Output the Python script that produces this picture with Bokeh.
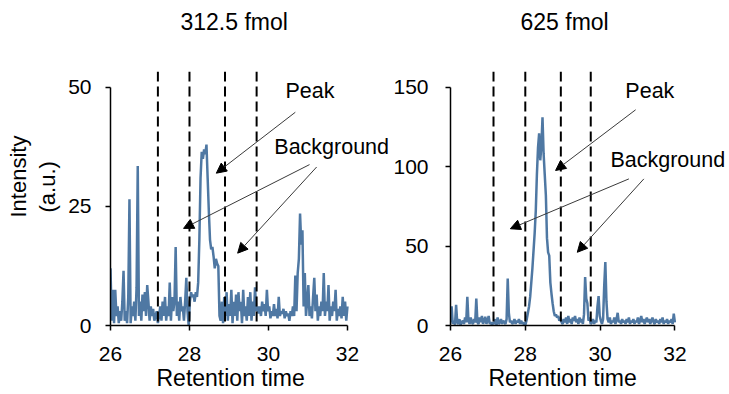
from bokeh.plotting import figure
from bokeh.layouts import row
from bokeh.models import Range1d, FixedTicker, Span, Arrow, NormalHead, Label, Title
from bokeh.embed import file_html
from bokeh.resources import INLINE

# ---------------- data ----------------
rt_start, rt_step, rt_count = 26.0, 0.03, 201
retention_time = [round(rt_start + rt_step * i, 2) for i in range(rt_count)]

intensity_312 = [
    12, 1, 7.5, 0.5, 7.5, 2, 4, 0.5, 3, 1,
    5, 11.5, 1, 3, 0.5, 6, 26.5, 0.5, 4, 2,
    5, 1, 8, 33.5, 2, 5, 1, 6.5, 3, 7,
    2, 8.5, 5, 1, 4, 2, 3.5, 1, 2, 3,
    0.5, 2, 4, 1, 5, 2, 6, 1, 4, 2,
    9, 1, 6, 3, 5, 16.5, 2, 5, 1, 6,
    3, 4, 1, 5, 10, 3, 0, 5, 7, 6,
    6.5, 5, 7, 6, 9, 18, 31, 36.5, 35, 37,
    36, 38, 31, 24, 18, 16, 16.5, 14.5, 12, 14,
    13, 12.5, 2, 1, 5, 0.5, 6, 2, 7, 1,
    4.5, 2, 7.5, 0.5, 5, 2, 6.5, 1, 7, 3,
    5, 0.5, 7.5, 2, 4, 1, 6, 2, 7, 1,
    5, 2, 8, 3, 4, 2.5, 4, 2, 5, 3,
    4.5, 2, 7.5, 3, 4, 1.5, 3, 2, 4.5, 2,
    3.5, 1.5, 6, 2, 3, 2.5, 3.5, 1.5, 3, 2,
    2.5, 1, 3, 2, 4, 2, 10.5, 3, 11, 14,
    23.5, 17, 20, 4, 11, 2, 5, 8.5, 2, 4,
    1.5, 6, 10, 3, 6.5, 1, 4, 2, 5, 3,
    11, 2, 5, 3, 8.5, 1, 4, 2, 5, 3,
    7.5, 1, 3.5, 2, 4, 1.5, 6, 2, 5, 1,
    4,
]

intensity_625 = [
    2, 12, 1, 3, 0.5, 13, 2, 1, 4, 0.5,
    2, 3, 1, 5, 2, 18, 3, 1, 5, 2,
    1, 4, 2, 17, 2, 1, 5, 2, 6, 1,
    3, 5.5, 1, 3, 6, 1, 2, 0.5, 2, 1,
    4, 0.5, 5, 1, 2, 4, 1, 3, 2, 1,
    4, 29.5, 8, 2, 3, 1, 2, 4, 1, 3,
    2, 4, 1, 3, 1, 2, 0, 1, 4, 8,
    12, 18, 27, 36, 47, 58, 72, 95, 112, 121,
    104, 113, 131, 108, 95, 82, 55, 46, 44, 27,
    20, 14, 9, 6, 7, 5, 6, 3, 5, 2,
    1, 4, 2, 5, 1, 6, 2, 4, 1, 5,
    3, 6, 2, 4, 1, 5, 2, 4, 1, 7,
    30.5, 17, 14, 3, 5, 1, 2, 4, 1, 3,
    2, 12, 18.5, 6, 3, 1, 4, 25, 40, 15,
    4, 2, 5, 1, 3, 2, 5, 1, 4, 8,
    2, 3, 1, 4, 2, 3, 1, 4, 2, 5,
    1, 3, 2, 4, 1, 3, 2, 5, 1, 3,
    6, 2, 4, 1, 3, 5, 2, 4, 1, 3,
    5, 2, 1, 4, 2, 3, 1, 4, 2, 5,
    1, 3, 2, 4, 1, 3, 2, 4, 1, 7.5,
    2,
]

titles = ["312.5 fmol", "625 fmol"]
x_label = "Retention time"
y_label_lines = ["Intensity", "(a.u.)"]
x_ticks = [26, 28, 30, 32]
x_axis_bounds = (26, 32)
y_ticks_312 = [0, 25, 50]
y_ticks_625 = [0, 50, 100, 150]
y_axis_max_312 = 50
y_axis_max_625 = 150
y_view_max_312 = 53.36
y_view_max_625 = 159.9
x_view_max_312 = 33.09   # room at the right for the annotation texts
x_view_max_625 = 33.46

window_312 = [27.2, 28.0, 28.9, 29.7]
window_625 = [27.15, 28.0, 28.95, 29.75]

# annotations: (text, x, y)
labels_312 = [("Peak", 31.05, 49.3), ("Background", 31.6, 37.6)]
labels_625 = [("Peak", 31.33, 147.9), ("Background", 31.81, 104.5)]
# arrows: (x_start, y_start, x_end, y_end)
arrows_312 = [(30.68, 44.8, 28.68, 32.0),
              (31.04, 33.8, 27.85, 20.4),
              (31.22, 33.3, 29.22, 15.2)]
arrows_625 = [(30.95, 135.8, 28.81, 97.6),
              (30.77, 92.3, 27.60, 60.9),
              (31.17, 92.3, 29.39, 46.1)]

FONT = "Liberation Sans"
LINE_COLOR = "#4F78A3"
FRAME_H = 254
TOP, BOTTOM = 71, 69


def make_plot(title, y, y_ticks, y_axis_max, y_view_max, x_view_max, windows,
              labels, arrows, border_left, frame_w, y_standoff, with_ylabel,
              title_offset, xlabel_offset):
    p = figure(output_backend="svg", toolbar_location=None,
               frame_width=frame_w, frame_height=FRAME_H,
               min_border_left=border_left, min_border_right=0,
               min_border_top=TOP, min_border_bottom=BOTTOM,
               x_range=Range1d(26, x_view_max), y_range=Range1d(0, y_view_max))
    p.outline_line_color = None
    p.xgrid.visible = False
    p.ygrid.visible = False
    p.background_fill_color = "white"
    p.border_fill_color = "white"

    for ax in (p.xaxis[0], p.yaxis[0]):
        ax.axis_line_color = "black"
        ax.axis_line_width = 1.5
        ax.major_tick_line_color = "black"
        ax.major_tick_line_width = 1.5
        ax.major_tick_in = 0
        ax.major_tick_out = 5
        ax.minor_tick_line_color = None
        ax.major_label_text_font = FONT
        ax.major_label_text_font_size = "21px"
        ax.major_label_text_color = "black"

    p.xaxis[0].ticker = FixedTicker(ticks=x_ticks)
    p.xaxis[0].bounds = x_axis_bounds
    p.xaxis[0].major_label_standoff = 16

    p.yaxis[0].ticker = FixedTicker(ticks=y_ticks)
    p.yaxis[0].bounds = (0, y_axis_max)
    p.yaxis[0].major_label_standoff = y_standoff

    # title at the top (spacer keeps it near the top edge)
    p.add_layout(Title(text="\u00a0", text_font=FONT, text_font_size="23px",
                       standoff=7), "above")
    p.add_layout(Title(text=title, text_font=FONT, text_font_size="23px",
                       text_font_style="normal", text_color="black",
                       align="left", offset=title_offset,
                       vertical_align="top", standoff=0), "above")

    # x axis title
    p.add_layout(Title(text=x_label, text_font=FONT, text_font_size="23px",
                       text_font_style="normal", text_color="black",
                       align="left", offset=xlabel_offset,
                       vertical_align="top", standoff=2), "below")

    if with_ylabel:
        p.add_layout(Title(text=y_label_lines[1], text_font=FONT, text_font_size="22px",
                           text_font_style="normal", text_color="black",
                           align="left", offset=113, vertical_align="top",
                           standoff=8), "left")
        p.add_layout(Title(text=y_label_lines[0], text_font=FONT, text_font_size="22px",
                           text_font_style="normal", text_color="black",
                           align="left", offset=108, vertical_align="bottom",
                           standoff=0), "left")

    for w in windows:
        p.add_layout(Span(location=w, dimension="height", line_color="black",
                          line_width=2, line_dash="10 5"))

    p.line(retention_time, y, line_color=LINE_COLOR, line_width=2.5)

    for (xs, ys, xe, ye) in arrows:
        p.add_layout(Arrow(end=NormalHead(size=10, fill_color="black", line_color="black"),
                           x_start=xs, y_start=ys, x_end=xe, y_end=ye,
                           line_color="#3a3a3a", line_width=1))
    for (txt, lx, ly) in labels:
        p.add_layout(Label(x=lx, y=ly, text=txt, text_align="center",
                           text_baseline="middle", text_font=FONT,
                           text_font_size="21.5px", text_color="black"))
    return p


p1 = make_plot(titles[0], intensity_312, y_ticks_312, y_axis_max_312, y_view_max_312,
               x_view_max_312, window_312, labels_312, arrows_312,
               110, 280, 14, True, 70, 46)
p2 = make_plot(titles[1], intensity_625, y_ticks_625, y_axis_max_625, y_view_max_625,
               x_view_max_625, window_625, labels_625, arrows_625,
               58, 279, 17, False, 70, 38)

layout = row(p1, p2, spacing=0)

open("out.html", "w").write(file_html(layout, INLINE))
